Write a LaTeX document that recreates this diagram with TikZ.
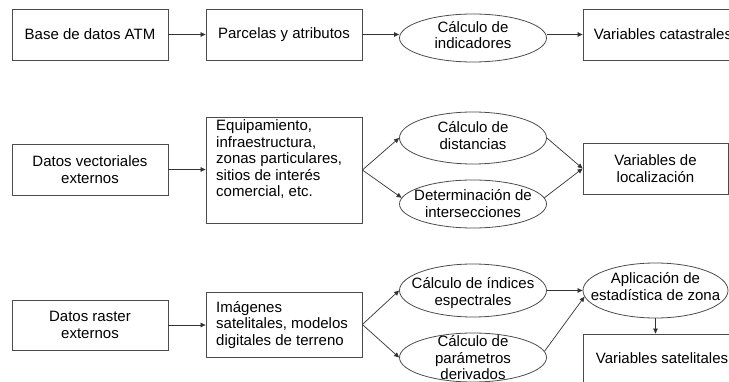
\documentclass[tikz,border=0pt]{standalone}
\usepackage{fontspec}
\setmainfont{Liberation Sans}
\usetikzlibrary{shapes.geometric,arrows.meta}
\definecolor{ln}{gray}{0.3}
\begin{document}
\begin{tikzpicture}[x=1pt,y=-1pt,
  font=\fontsize{15}{16.5}\selectfont,
  box/.style={draw=ln, line width=0.8pt, rectangle, inner sep=0pt, align=center},
  ell/.style={draw=ln, line width=0.8pt, ellipse, inner sep=0pt},
  txt/.style={inner sep=0pt, align=center},
  arr/.style={draw=black!80, line width=0.7pt, -{Triangle[length=5pt,width=4.5pt]}}]
\useasboundingbox (0,0) rectangle (729,382);
\clip (0,0) rectangle (729,382);
% row 1
\node[box, minimum width=156pt, minimum height=51pt] (b1) at (90,34.5) {Base de datos ATM};
\node[box, minimum width=156pt, minimum height=51pt] (b2) at (284,34.5) {Parcelas y atributos};
\node[ell, minimum width=147pt, minimum height=48pt] (e1) at (473,38) {};
\node[txt] (t1) at (473,35) {Cálculo de\\indicadores};
\node[box, minimum width=160pt, minimum height=51pt] (b3) at (663,34.5) {Variables catastrales};
% row 2
\node[box, minimum width=156pt, minimum height=51pt] (b4) at (90,169.5) {Datos vectoriales\\externos};
\node[box, minimum width=156pt, minimum height=106pt] (b5) at (284,170) {};
\node[txt, align=left, anchor=north west] (t5) at (216,119.5) {Equipamiento,\\infraestructura,\\zonas particulares,\\sitios de interés\\comercial, etc.};
\node[ell, minimum width=147pt, minimum height=52pt] (e2) at (473,138) {};
\node[txt] (t2) at (473,135.5) {Cálculo de\\distancias};
\node[ell, minimum width=147pt, minimum height=48pt] (e3) at (473,204) {};
\node[txt] (t3) at (473,203.5) {Determinación de\\intersecciones};
\node[box, minimum width=145pt, minimum height=51pt] (b6) at (655.5,168.5) {Variables de\\localización};
% row 3
\node[box, minimum width=156pt, minimum height=50pt] (b7) at (90,325) {Datos raster\\externos};
\node[box, minimum width=156pt, minimum height=65pt] (b8) at (284,324.5) {};
\node[txt, align=left, anchor=west] (t8) at (216,325) {Imágenes\\satelitales, modelos\\digitales de terreno};
\node[ell, minimum width=147pt, minimum height=53pt] (e4) at (473,290.5) {};
\node[txt] (t4) at (473,293) {Cálculo de índices\\espectrales};
\node[ell, minimum width=147pt, minimum height=49pt] (e5) at (473,357.5) {};
\node[txt] (t5b) at (473,358) {Cálculo de\\parámetros\\derivados};
\node[ell, minimum width=145pt, minimum height=55pt] (e6) at (655.5,290.5) {};
\node[txt] (t6) at (655.5,286.5) {Aplicación de\\estadística de zona};
\node[box, minimum width=154pt, minimum height=66pt] (b9) at (660,367) {};
\node[txt] (t9) at (662,358) {Variables satelitales};
% connectors
\draw[arr] (b1.east) -- (b2.west);
\draw[arr] (b2.east) -- (b2.east -| e1.west);
\draw[arr] (e1.east |- b3.west) -- (b3.west);
\draw[arr] (b4.east) -- (b4.east -| b5.west);
\draw[arr] (b5.east) -- (e2.west);
\draw[arr] (b5.east) -- (e3.175);
\draw[arr] (e2.east) -- (b6.west);
\draw[arr] (e3.5) -- (b6.west);
\draw[arr] (b7.east) -- (b7.east -| b8.west);
\draw[arr] (b8.east) -- (e4.west);
\draw[arr] (b8.east) -- (e5.west);
\draw[arr] (e4.east) -- (e6.west);
\draw[arr] (e5.5) -- (e6.185);
\draw[arr] (e6.south) -- (e6.south |- b9.north);
\end{tikzpicture}
\end{document}
